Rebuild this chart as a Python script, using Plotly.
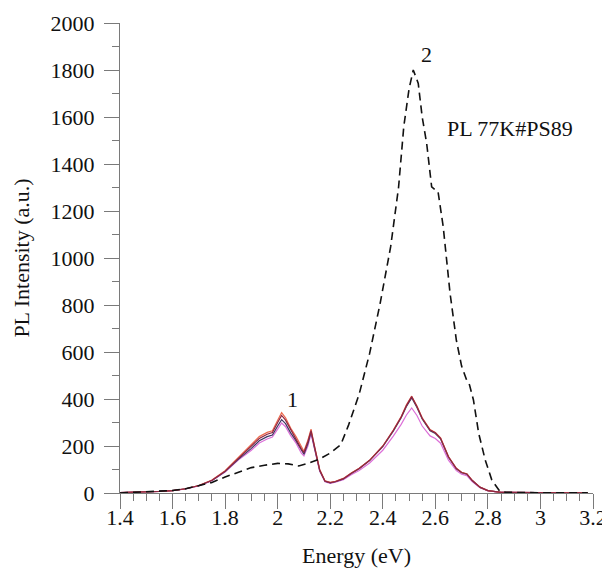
import plotly.graph_objects as go

# ---- data ----
energy_solid = [1.40, 1.45, 1.50, 1.55, 1.60, 1.65, 1.70, 1.75, 1.80, 1.85, 1.90, 1.93, 1.96, 1.98,
                2.00, 2.015, 2.03, 2.05, 2.07, 2.09, 2.10, 2.115, 2.127, 2.14, 2.16, 2.18, 2.20, 2.22,
                2.25, 2.28, 2.31, 2.35, 2.40, 2.44, 2.47, 2.49, 2.51, 2.53, 2.55, 2.58, 2.60, 2.62,
                2.65, 2.68, 2.70, 2.72, 2.74, 2.77, 2.80, 2.85, 2.90, 3.00, 3.10, 3.18]

pl_orange = [2, 3, 5, 7, 10, 18, 32, 55, 95, 150, 205, 240, 258, 265,
             310, 342, 320, 275, 240, 195, 178, 225, 272, 200, 100, 52, 45, 50,
             62, 85, 105, 140, 200, 268, 325, 375, 412, 370, 320, 270, 258, 235,
             155, 105, 88, 82, 55, 25, 10, 3, 2, 1, 1, 1]

pl_darkred = [2, 3, 5, 7, 10, 18, 32, 54, 93, 147, 198, 232, 250, 257,
              300, 330, 310, 268, 232, 188, 172, 218, 265, 196, 98, 51, 44, 49,
              61, 84, 104, 139, 199, 266, 323, 372, 410, 368, 318, 268, 256, 233,
              154, 104, 87, 81, 54, 25, 10, 3, 2, 1, 1, 1]

pl_navy = [2, 3, 5, 7, 10, 18, 31, 53, 91, 143, 190, 222, 240, 247,
           285, 312, 295, 255, 222, 180, 165, 210, 260, 192, 96, 50, 43, 48,
           60, 83, 103, 138, 197, 263, 320, 368, 405, 364, 315, 265, 253, 230,
           152, 103, 86, 80, 53, 24, 10, 3, 2, 1, 1, 1]

pl_magenta = [2, 3, 5, 7, 10, 17, 30, 52, 89, 140, 182, 213, 230, 238,
              272, 298, 282, 243, 212, 170, 158, 200, 252, 186, 92, 48, 41, 46,
              57, 78, 96, 128, 182, 242, 292, 332, 362, 330, 285, 243, 232, 212,
              140, 95, 80, 74, 49, 22, 9, 3, 2, 1, 1, 1]

energy_dash = [1.40, 1.45, 1.50, 1.55, 1.60, 1.65, 1.70, 1.75, 1.80, 1.85, 1.90, 1.95, 2.00, 2.04,
               2.08, 2.12, 2.16, 2.20, 2.24, 2.27, 2.29, 2.31, 2.35, 2.39, 2.43, 2.46, 2.48, 2.50,
               2.516, 2.535, 2.55, 2.567, 2.586, 2.60, 2.61, 2.63, 2.656, 2.68, 2.70, 2.72, 2.73,
               2.745, 2.765, 2.79, 2.815, 2.845, 2.87, 2.90, 3.00, 3.10, 3.18]
pl_dash = [0, 2, 4, 7, 11, 18, 30, 45, 68, 89, 108, 118, 126, 124,
           115, 128, 145, 170, 205, 290, 355, 420, 594, 807, 1048, 1300, 1560, 1720,
           1800, 1743, 1600, 1488, 1303, 1290, 1285, 1133, 850, 650, 540, 478, 460,
           396, 254, 140, 55, 8, 3, 2, 1, 1, 1]

x_ticks = [1.4, 1.6, 1.8, 2.0, 2.2, 2.4, 2.6, 2.8, 3.0, 3.2]
x_tick_labels = ["1.4", "1.6", "1.8", "2", "2.2", "2.4", "2.6", "2.8", "3", "3.2"]
y_ticks = [0, 200, 400, 600, 800, 1000, 1200, 1400, 1600, 1800, 2000]

FONT = "Liberation Serif, Times New Roman, serif"
FS = 22

fig = go.Figure()
solid_series = [
    (pl_magenta, "#dc6fd8"),
    (pl_navy, "#3d3563"),
    (pl_orange, "#ec6a4e"),
    (pl_darkred, "#8e2440"),
]
for ys, col in solid_series:
    fig.add_trace(go.Scatter(x=energy_solid, y=ys, mode="lines",
                             line=dict(color=col, width=1.2), showlegend=False))

fig.add_trace(go.Scatter(x=energy_dash, y=pl_dash, mode="lines",
                         line=dict(color="#111111", width=1.6, dash="8px,5px"),
                         showlegend=False))

fig.add_annotation(x=2.058, y=396, text="1", showarrow=False,
                   font=dict(family=FONT, size=FS, color="#111"))
fig.add_annotation(x=2.568, y=1864, text="2", showarrow=False,
                   font=dict(family=FONT, size=FS, color="#111"))
fig.add_annotation(x=2.637, y=1553, text="PL 77K#PS89", showarrow=False, xanchor="left",
                   font=dict(family=FONT, size=FS, color="#111"))

axis_common = dict(
    showgrid=False, zeroline=False, showline=True, linecolor="#7a7a7a", linewidth=1,
    ticks="outside", ticklen=15, tickcolor="#7a7a7a", tickwidth=1, automargin=False,
    tickfont=dict(family=FONT, size=FS, color="#111"),
)

fig.update_xaxes(range=[1.4, 3.2], tickvals=x_ticks, ticktext=x_tick_labels,
                 ticklabelstandoff=-10,
                 minor=dict(dtick=0.05, tick0=1.4, ticklen=7, ticks="outside", tickcolor="#7a7a7a"),
                 title=dict(text="Energy (eV)", font=dict(family=FONT, size=FS, color="#111"), standoff=18),
                 **axis_common)
fig.update_yaxes(range=[0, 2000], tickvals=y_ticks, ticklabelstandoff=5,
                 minor=dict(dtick=100, tick0=0, ticklen=7, ticks="outside", tickcolor="#7a7a7a"),
                 title=dict(text="PL Intensity (a.u.)", font=dict(family=FONT, size=FS, color="#111"), standoff=14),
                 **axis_common)

fig.update_layout(width=602, height=563, margin=dict(l=112, r=17, t=15, b=78),
                  plot_bgcolor="white", paper_bgcolor="white", showlegend=False)

fig.write_html("out.html")
